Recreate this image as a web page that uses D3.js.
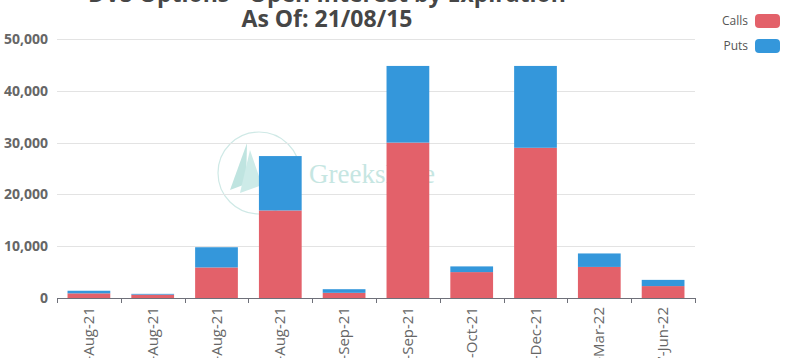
<!DOCTYPE html>
<html>
<head>
<meta charset="utf-8">
<script src="https://cdn.jsdelivr.net/npm/d3@7"></script>
<style>
html,body{margin:0;padding:0;background:#fff;overflow:hidden;}
svg{display:block;font-family:"Open Sans",sans-serif;}
</style>
</head>
<body>
<svg id="chart" width="791" height="358"></svg>
<script>
const titleLines = ["DVS Options - Open Interest by Expiration", "As Of: 21/08/15"];
const categories = ["16-Aug-21","18-Aug-21","20-Aug-21","27-Aug-21","03-Sep-21","17-Sep-21","15-Oct-21","17-Dec-21","18-Mar-22","17-Jun-22"];
const calls = [900, 650, 5900, 16900, 1000, 30000, 5000, 29000, 6000, 2300];
const puts  = [500, 150, 3900, 10500, 700, 14800, 1100, 15800, 2600, 1200];
const seriesNames = ["Calls", "Puts"];
const seriesColors = ["#e3616a", "#3497db"];
const yTicks = [0, 10000, 20000, 30000, 40000, 50000];

const svg = d3.select("#chart");
const W = 791, H = 358;
const m = {left: 57, right: 96, top: 39, bottom: 60};
const x = d3.scaleBand().domain(categories).range([m.left, W - m.right]).paddingInner(0.33).paddingOuter(0.165);
const y = d3.scaleLinear().domain([0, 50000]).range([H - m.bottom, m.top]);

// watermark
const wm = svg.append("g").attr("class", "watermark");
wm.append("circle").attr("cx", 259).attr("cy", 173).attr("r", 41)
  .attr("fill", "none").attr("stroke", "#cfe9e6").attr("stroke-width", 1.2);
wm.append("path").attr("d", "M247,143 L230,190 L246,184 Z").attr("fill", "#bfe4e0");
wm.append("path").attr("d", "M250,150 L262,185 L240,193 Z").attr("fill", "#cdebe8");
wm.append("text").attr("x", 309).attr("y", 183).text("GreeksLive")
  .attr("font-family", "Liberation Serif, serif").attr("font-size", 27).attr("fill", "#c6e6e2");

// grid
const grid = svg.append("g");
grid.selectAll("line").data(yTicks.filter(d => d > 0)).join("line")
  .attr("x1", m.left).attr("x2", W - m.right)
  .attr("y1", d => Math.round(y(d)) + 0.5).attr("y2", d => Math.round(y(d)) + 0.5)
  .attr("stroke", "#e3e3e3");

// y axis labels
const yAxis = d3.axisLeft(y).tickValues(yTicks).tickFormat(d3.format(",")).tickSize(0).tickPadding(9);
const ya = svg.append("g").attr("transform", `translate(${m.left},0)`).call(yAxis);
ya.select(".domain").remove();
ya.selectAll("text").attr("font-size", 14).attr("font-weight", "bold").attr("fill", "#666")
  .attr("font-family", "Open Sans, sans-serif");

// bars
const stackData = categories.map((c, i) => ({cat: c, Calls: calls[i], Puts: puts[i]}));
const stack = d3.stack().keys(seriesNames)(stackData);
svg.append("g").selectAll("g").data(stack).join("g")
  .attr("fill", (d, i) => seriesColors[i])
  .selectAll("rect").data(d => d).join("rect")
  .attr("x", d => x(d.data.cat))
  .attr("width", x.bandwidth())
  .attr("y", d => y(d[1]))
  .attr("height", d => y(d[0]) - y(d[1]));

// x axis
const xb = d3.scaleLinear().domain([0, categories.length]).range([m.left, W - m.right]);
const xa = svg.append("g").attr("transform", `translate(0,${H - m.bottom})`);
xa.append("line").attr("x1", m.left).attr("x2", W - m.right).attr("y1", 0.5).attr("y2", 0.5).attr("stroke", "#6e7079");
xa.selectAll("line.tick").data(d3.range(categories.length + 1)).join("line").attr("class", "tick")
  .attr("x1", d => Math.round(xb(d)) + 0.5).attr("x2", d => Math.round(xb(d)) + 0.5)
  .attr("y1", 0).attr("y2", 5).attr("stroke", "#6e7079");
xa.selectAll("text").data(categories).join("text")
  .attr("transform", d => `translate(${x(d) + x.bandwidth() / 2 + 5},9) rotate(-90)`)
  .attr("text-anchor", "end").attr("font-size", 15).attr("fill", "#666")
  .text(d => d);

// title
const tt = svg.append("g");
tt.selectAll("text").data(titleLines).join("text")
  .attr("x", 327).attr("y", (d, i) => 2 + i * 25)
  .attr("text-anchor", "middle").attr("font-size", 23).attr("font-weight", "bold")
  .attr("fill", "#464646").text(d => d);

// legend
const lg = svg.append("g");
seriesNames.forEach((s, i) => {
  const yy = 21 + i * 25;
  lg.append("text").attr("x", 748).attr("y", yy).attr("dy", "0.35em").attr("text-anchor", "end")
    .attr("font-size", 12).attr("fill", "#555").text(s);
  lg.append("rect").attr("x", 755).attr("y", yy - 7).attr("width", 25).attr("height", 14)
    .attr("rx", 4).attr("fill", seriesColors[i]);
});
</script>
</body>
</html>
